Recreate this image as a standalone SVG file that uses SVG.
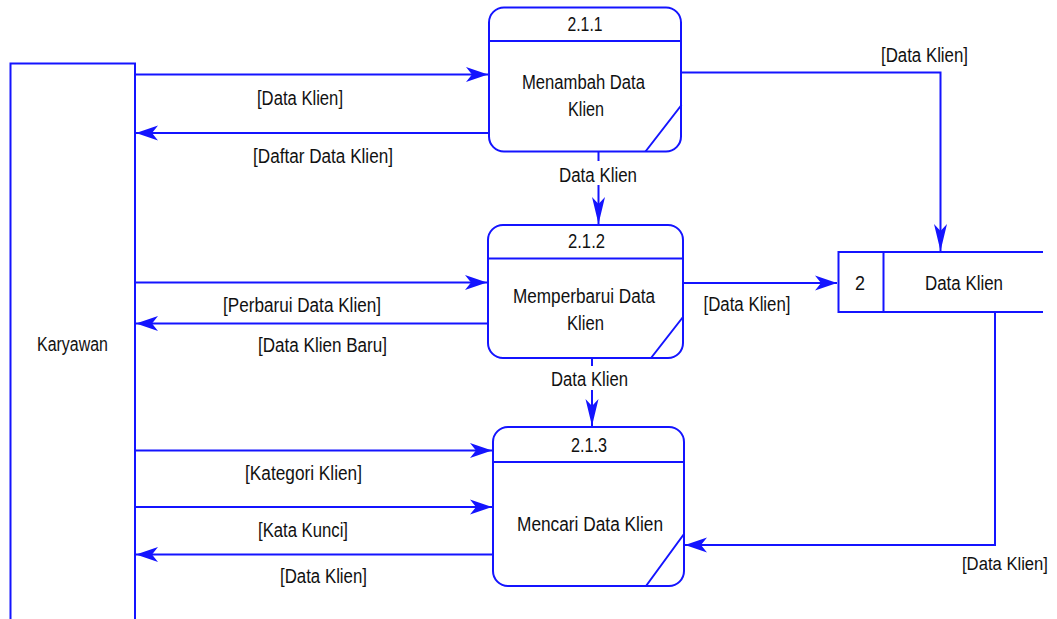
<svg xmlns="http://www.w3.org/2000/svg" width="1057" height="619" viewBox="0 0 1057 619">
<style>
.s{fill:none;stroke:#1414ff;stroke-width:2}
.b{fill:#fff;stroke:#1414ff;stroke-width:2}
text{font-family:"Liberation Sans",Arial,sans-serif;font-size:20px;fill:#111;text-anchor:middle}
</style>
<defs>
<marker id="ah" markerUnits="userSpaceOnUse" markerWidth="30" markerHeight="30" refX="0" refY="0" orient="auto" overflow="visible">
<path d="M0,0 L-22,-7.5 L-16,0 L-22,7.5 Z" fill="#1414ff"/>
</marker>
<marker id="av" markerUnits="userSpaceOnUse" markerWidth="30" markerHeight="30" refX="0" refY="0" orient="auto" overflow="visible">
<path d="M0,0 L-27,-6.5 L-20,0 L-27,6.5 Z" fill="#1414ff"/>
</marker>
</defs>
<rect width="1057" height="619" fill="#fff"/>

<g id="connectors">
<path class="s" d="M135,74.5 H488" marker-end="url(#ah)"/>
<path class="s" d="M489,133 H136" marker-end="url(#ah)"/>
<path class="s" d="M681,72.5 H940.5 V251" marker-end="url(#av)"/>
<path class="s" d="M598.5,152 V224" marker-end="url(#av)"/>
<path class="s" d="M135,282.5 H487" marker-end="url(#ah)"/>
<path class="s" d="M488,323.5 H136" marker-end="url(#ah)"/>
<path class="s" d="M683,283 H837" marker-end="url(#ah)"/>
<path class="s" d="M592,358 V426" marker-end="url(#av)"/>
<path class="s" d="M135,450.5 H492" marker-end="url(#ah)"/>
<path class="s" d="M135,507 H492" marker-end="url(#ah)"/>
<path class="s" d="M493,554.5 H136" marker-end="url(#ah)"/>
<path class="s" d="M995,312 V545 H685" marker-end="url(#ah)"/>
<rect x="556" y="161" width="84" height="24" fill="#fff"/>
<rect x="549" y="366" width="82" height="24" fill="#fff"/>
<text x="924.5" y="62" textLength="87" lengthAdjust="spacingAndGlyphs">[Data Klien]</text>
<text x="300" y="105" textLength="86" lengthAdjust="spacingAndGlyphs">[Data Klien]</text>
<text x="323" y="163" textLength="140" lengthAdjust="spacingAndGlyphs">[Daftar Data Klien]</text>
<text x="598" y="181.5" textLength="78" lengthAdjust="spacingAndGlyphs">Data Klien</text>
<text x="302" y="311.5" textLength="158" lengthAdjust="spacingAndGlyphs">[Perbarui Data Klien]</text>
<text x="322.5" y="351.5" textLength="129" lengthAdjust="spacingAndGlyphs">[Data Klien Baru]</text>
<text x="747" y="311" textLength="87" lengthAdjust="spacingAndGlyphs">[Data Klien]</text>
<text x="589.5" y="386" textLength="77" lengthAdjust="spacingAndGlyphs">Data Klien</text>
<text x="303.5" y="480" textLength="117" lengthAdjust="spacingAndGlyphs">[Kategori Klien]</text>
<text x="303" y="536.5" textLength="90" lengthAdjust="spacingAndGlyphs">[Kata Kunci]</text>
<text x="323.5" y="583" textLength="87" lengthAdjust="spacingAndGlyphs">[Data Klien]</text>
<text x="1005" y="570" textLength="86" lengthAdjust="spacingAndGlyphs" style="font-size:18px">[Data Klien]</text>
</g>

<g id="karyawan">
<rect class="b" x="10.5" y="63.5" width="124.5" height="570"/>
<text x="72.5" y="351" textLength="71" lengthAdjust="spacingAndGlyphs">Karyawan</text>
</g>

<g id="p211">
<rect class="b" x="489" y="7.5" width="192" height="144" rx="15"/>
<path class="s" d="M489,41 H681 M645.5,151.5 L681.5,105"/>
<text x="585" y="31" textLength="35" lengthAdjust="spacingAndGlyphs">2.1.1</text>
<text x="583.5" y="89" textLength="123" lengthAdjust="spacingAndGlyphs">Menambah Data</text>
<text x="586" y="116" textLength="36" lengthAdjust="spacingAndGlyphs">Klien</text>
</g>

<g id="p212">
<rect class="b" x="488" y="225" width="195" height="133" rx="15"/>
<path class="s" d="M488,258.5 H683 M651,358 L683,317"/>
<text x="586.5" y="248" textLength="37" lengthAdjust="spacingAndGlyphs">2.1.2</text>
<text x="584" y="302.5" textLength="142" lengthAdjust="spacingAndGlyphs">Memperbarui Data</text>
<text x="585.5" y="330" textLength="37" lengthAdjust="spacingAndGlyphs">Klien</text>
</g>

<g id="p213">
<rect class="b" x="493" y="427" width="191" height="159" rx="15"/>
<path class="s" d="M493,462 H684 M646,586 L684,534"/>
<text x="589" y="452" textLength="36" lengthAdjust="spacingAndGlyphs">2.1.3</text>
<text x="590" y="530.5" textLength="146" lengthAdjust="spacingAndGlyphs">Mencari Data Klien</text>
</g>

<g id="store">
<path class="s" d="M1043,252 H838.5 V312 H1043 M883.5,252 V312"/>
<text x="860" y="290" textLength="10" lengthAdjust="spacingAndGlyphs">2</text>
<text x="964" y="290" textLength="78" lengthAdjust="spacingAndGlyphs">Data Klien</text>
</g>
</svg>
